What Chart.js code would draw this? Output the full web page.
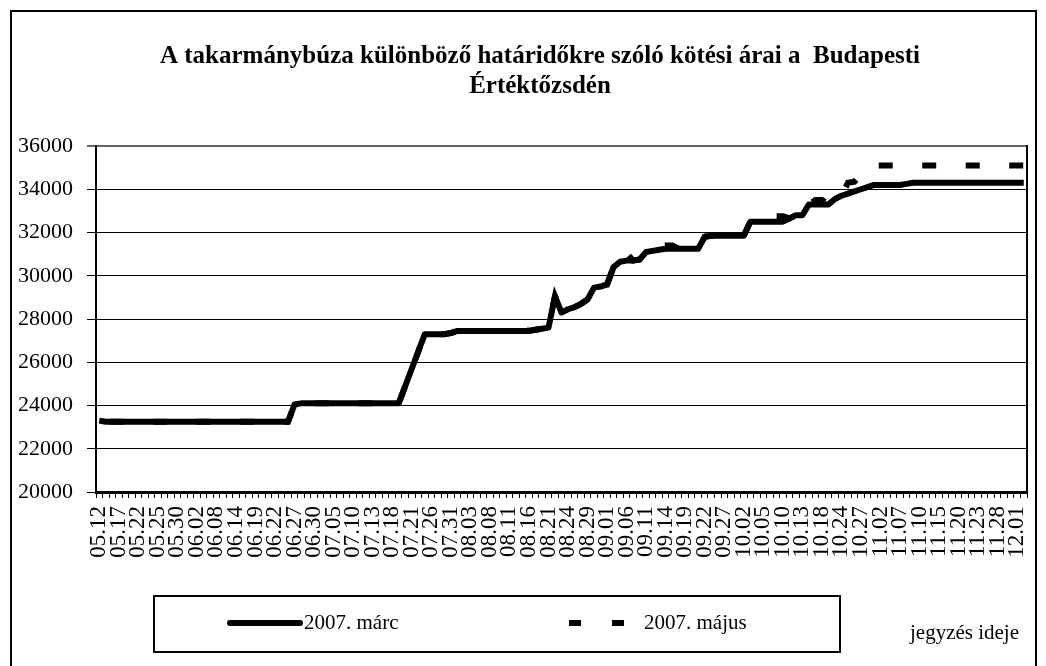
<!DOCTYPE html>
<html><head><meta charset="utf-8">
<script src="https://cdn.jsdelivr.net/npm/chart.js@4/dist/chart.umd.min.js"></script>
<style>html,body{margin:0;padding:0;background:#fff}canvas{display:block}</style>
</head><body>
<canvas id="c" width="1046" height="666"></canvas>
<script>
const titleLines = ['A takarmánybúza különböző határidőkre szóló kötési árai a  Budapesti', 'Értéktőzsdén'];
const xAxisTitle = 'jegyzés ideje';
const seriesNames = ['2007. márc', '2007. május'];
const tickLabels = ['05.12','05.17','05.22','05.25','05.30','06.02','06.08','06.14','06.19','06.22','06.27','06.30',
  '07.05','07.10','07.13','07.18','07.21','07.26','07.31','08.03','08.08','08.11','08.16','08.21','08.24','08.29',
  '09.01','09.06','09.11','09.14','09.19','09.22','09.27','10.02','10.05','10.10','10.13','10.18','10.24','10.27',
  '11.02','11.07','11.10','11.15','11.20','11.23','11.28','12.01'];
const yTickValues = [20000, 22000, 24000, 26000, 28000, 30000, 32000, 34000, 36000];

const marcValues = [
  23300,23250,23250,23250,23250,23250,23250,23250,23250,23250,
  23250,23250,23250,23250,23250,23250,23250,23250,23250,23250,
  23250,23250,23250,23250,23250,23250,23250,23250,23250,23250,
  24050,24100,24100,24100,24100,24100,24100,24100,24100,24100,
  24100,24100,24100,24100,24100,24100,24100,24900,25700,26500,
  27300,27300,27300,27300,27350,27450,27450,27450,27450,27450,
  27450,27450,27450,27450,27450,27450,27450,27500,27550,27600,
  29050,28300,28450,28550,28700,28900,29450,29500,29600,30400,
  30650,30700,30700,30750,31100,31150,31200,31250,31250,31250,
  31250,31250,31250,31800,31850,31850,31850,31850,31850,31850,
  32500,32500,32500,32500,32500,32500,32650,32800,32800,33300,
  33300,33300,33300,33550,33700,33800,33900,34000,34100,34200,
  34200,34200,34200,34200,34250,34300,34300,34300,34300,34300,
  34300,34300,34300,34300,34300,34300,34300,34300,34300,34300,
  34300,34300,34300
];
const majusValues = [
  23300,23250,23250,23250,23250,23250,23250,23250,23250,23250,
  23250,23250,23250,23250,23250,23250,23250,23250,23250,23250,
  23250,23250,23250,23250,23250,23250,23250,23250,23250,23250,
  24050,24100,24100,24100,24100,24100,24100,24100,24100,24100,
  24100,24100,24100,24100,24100,24100,24100,24900,25700,26500,
  27300,27300,27300,27300,27350,27450,27450,27550,27550,27450,
  27450,27450,27450,27450,27550,27550,27450,27500,27550,27600,
  29050,28300,28450,28550,28700,28900,29650,29600,29600,30400,
  30950,31050,30700,30750,31100,31150,31350,31400,31400,31250,
  31250,31250,31250,31800,31850,31850,31850,31850,31850,31850,
  32500,32500,32500,32500,32750,32750,32650,32800,32800,33300,
  33500,33500,33300,33550,33700,34300,34350,34700,35100,35100,
  35100,35100,35100,35100,35100,35100,35100,35100,35100,35100,
  35100,35100,35100,35100,35100,35100,35100,35100,35100,35100,
  35100,35100,35100
];

const categories = [];
tickLabels.forEach(l => categories.push(l, '', ''));
categories.length = marcValues.length;

const SERIF = '"Liberation Serif", "Times New Roman", serif';

const decorPlugin = {
  id: 'decor',
  afterDraw(chart) {
    const ctx = chart.ctx, a = chart.chartArea;
    ctx.save();
    ctx.strokeStyle = '#000'; ctx.lineWidth = 2;
    ctx.beginPath(); ctx.moveTo(a.right, a.top - 1); ctx.lineTo(a.right, a.bottom); ctx.stroke();
    ctx.lineWidth = 2;
    ctx.strokeRect(11, 11, 1025, 660);
    ctx.fillStyle = '#000';
    ctx.font = 'bold 25px ' + SERIF;
    ctx.textAlign = 'center'; ctx.textBaseline = 'middle';
    ctx.fillText(titleLines[0], 540, 57);
    ctx.fillText(titleLines[1], 540, 87);
    ctx.lineWidth = 2; ctx.strokeStyle = '#000';
    ctx.strokeRect(154, 596, 686, 56);
    const ly = 623;
    const ds = chart.data.datasets;
    ctx.lineWidth = ds[0].borderWidth; ctx.lineCap = 'round';
    ctx.beginPath(); ctx.moveTo(230, ly); ctx.lineTo(300, ly); ctx.stroke();
    ctx.lineCap = 'butt';
    ctx.font = '21px ' + SERIF; ctx.textAlign = 'left';
    ctx.fillText(ds[0].label, 304, ly);
    ctx.lineWidth = ds[1].borderWidth;
    ctx.setLineDash([12, 31]);
    ctx.beginPath(); ctx.moveTo(569, ly); ctx.lineTo(640, ly); ctx.stroke();
    ctx.setLineDash([]);
    ctx.fillText(ds[1].label, 644, ly);
    ctx.textAlign = 'right';
    ctx.fillText(xAxisTitle, 1019, 633);
    ctx.restore();
  }
};

new Chart(document.getElementById('c'), {
  type: 'line',
  data: {
    labels: categories,
    datasets: [
      { label: seriesNames[0], data: marcValues, borderColor: '#000', backgroundColor: '#000', borderWidth: 6,
        pointRadius: 0, tension: 0, fill: false, borderJoinStyle: 'round', order: 0 },
      { label: seriesNames[1], data: majusValues, borderColor: '#000', backgroundColor: '#000', borderWidth: 6,
        borderDash: [14, 29.5], borderDashOffset: 33, borderCapStyle: 'butt',
        pointRadius: 0, tension: 0, fill: false, order: 1 }
    ]
  },
  options: {
    responsive: false, animation: false, devicePixelRatio: 1,
    layout: { padding: { left: 10, top: 146, right: 19, bottom: 0 } },
    plugins: { legend: { display: false }, title: { display: false }, tooltip: { enabled: false } },
    scales: {
      x: {
        type: 'category', offset: true,
        grid: { offset: true, drawOnChartArea: false, drawTicks: true, tickLength: 6, color: '#000', lineWidth: 1 },
        border: { color: '#000', width: 3 },
        ticks: { autoSkip: false, minRotation: 90, maxRotation: 90, padding: 8, color: '#000',
                 font: { family: SERIF, size: 23 } },
        afterFit: s => { s.height = 174; s.paddingLeft = 0; s.paddingRight = 0; }
      },
      y: {
        min: 20000, max: 36000,
        afterBuildTicks: s => { s.ticks = yTickValues.map(v => ({ value: v })); },
        ticks: { color: '#000', padding: 14, font: { family: SERIF, size: 22 }, callback: v => String(v) },
        grid: { color: c => (c.tick && c.tick.value === 36000) ? '#666' : '#000',
                lineWidth: c => (c.tick && c.tick.value === 36000) ? 2 : 1, tickLength: 9 },
        border: { color: '#000', width: 2 },
        afterFit: s => { s.width = 86; s.paddingTop = 0; s.paddingBottom = 0; }
      }
    }
  },
  plugins: [decorPlugin]
});
</script>
</body></html>
